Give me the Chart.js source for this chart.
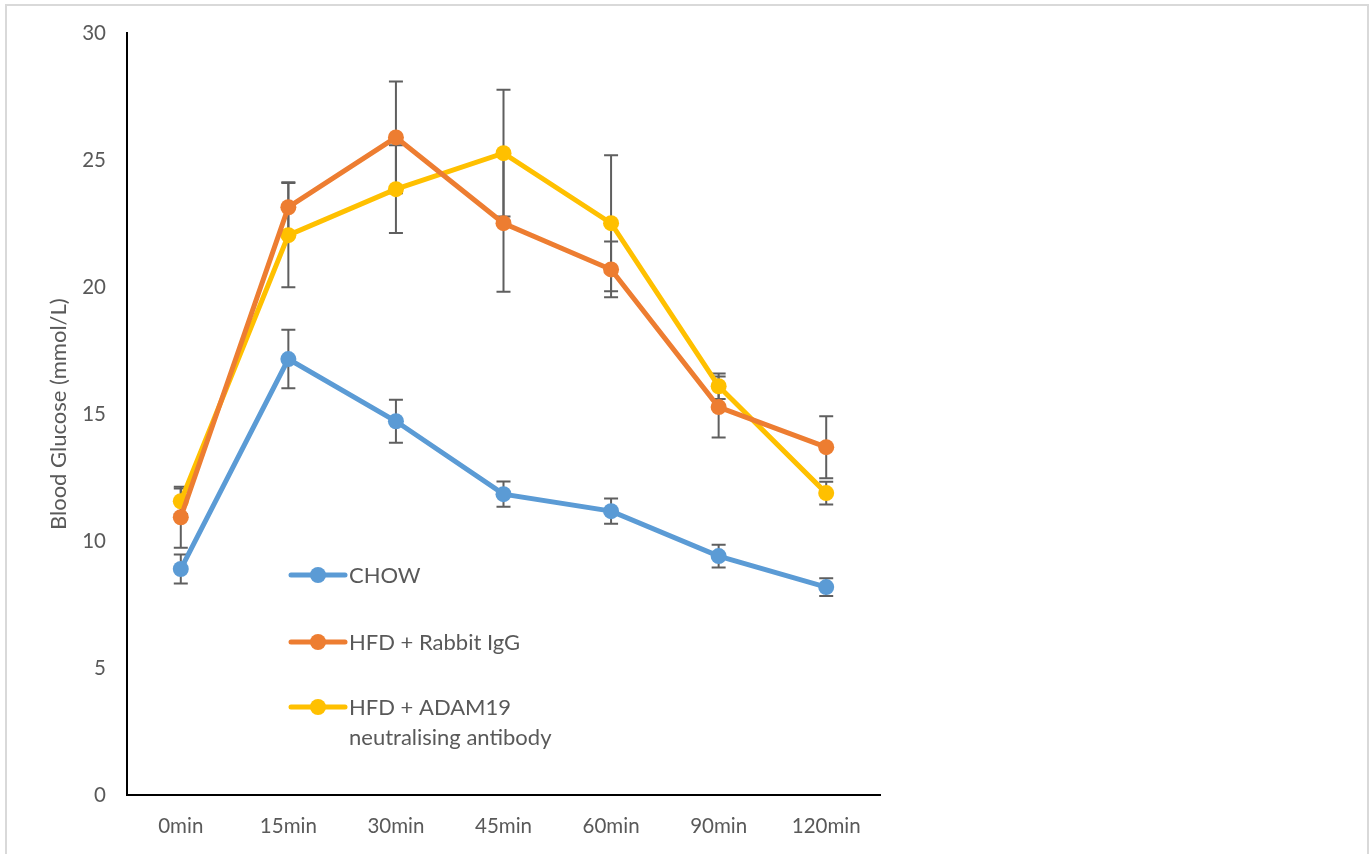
<!DOCTYPE html>
<html>
<head>
<meta charset="utf-8">
<title>Blood Glucose</title>
<script src="https://cdn.jsdelivr.net/npm/chart.js@4.4.0/dist/chart.umd.min.js"></script>
<style>
  html, body { margin: 0; padding: 0; background: #fff; overflow: hidden; }
  #marco { position: absolute; left: 5px; top: 4px; width: 1360px; height: 870px; border: 2px solid #d9d9d9; }
  #contenedor { position: absolute; left: 0; top: 0; width: 1370px; height: 854px; }
</style>
</head>
<body>
<div id="marco"></div>
<div id="contenedor"><canvas id="grafico"></canvas></div>
<script>
const etiquetas = ["0min", "15min", "30min", "45min", "60min", "90min", "120min"];

const chow = [8.9, 17.17, 14.72, 11.85, 11.18, 9.41, 8.19];
const chowError = [0.57, 1.15, 0.85, 0.5, 0.5, 0.45, 0.35];

const rabbitIgG = [10.94, 23.15, 25.9, 22.52, 20.7, 15.28, 13.7];
const rabbitIgGError = [1.2, 0.98, 2.2, 2.7, 1.1, 1.2, 1.22];

const adam19 = [11.57, 22.05, 23.86, 25.28, 22.52, 16.1, 11.89];
const adam19Error = [0.5, 2.05, 1.73, 2.5, 2.68, 0.5, 0.45];

const nombres = ["CHOW", "HFD + Rabbit IgG", "HFD + ADAM19 neutralising antibody"];
const leyendaLineas = [["CHOW"], ["HFD + Rabbit IgG"], ["HFD + ADAM19", "neutralising antibody"]];
const colores = ["#5B9BD5", "#ED7D31", "#FFC000"];
const errores = [chowError, rabbitIgGError, adam19Error];

const fuente = "Lato, 'Open Sans', sans-serif";
const gris = "#595959";

// barras de error dibujadas con las escalas del grafico
const barrasError = {
  id: "barrasError",
  beforeDatasetsDraw(chart) {
    const ctx = chart.ctx;
    const x = chart.scales.x;
    const y = chart.scales.y;
    ctx.save();
    ctx.strokeStyle = "#5f5f5f";
    ctx.lineWidth = 2;
    chart.data.datasets.forEach((ds, i) => {
      ds.data.forEach((v, j) => {
        const e = errores[i][j];
        const px = x.getPixelForValue(j);
        const arriba = y.getPixelForValue(v + e);
        const abajo = y.getPixelForValue(v - e);
        ctx.beginPath();
        ctx.moveTo(px, arriba);
        ctx.lineTo(px, abajo);
        ctx.moveTo(px - 7, arriba);
        ctx.lineTo(px + 7, arriba);
        ctx.moveTo(px - 7, abajo);
        ctx.lineTo(px + 7, abajo);
        ctx.stroke();
      });
    });
    ctx.restore();
  }
};

// leyenda dentro del area del grafico
const leyenda = {
  id: "leyenda",
  afterDraw(chart) {
    const ctx = chart.ctx;
    const filas = [575, 642, 707];
    ctx.save();
    ctx.font = "22px " + fuente;
    ctx.textBaseline = "middle";
    chart.data.datasets.forEach((ds, i) => {
      const yy = filas[i];
      ctx.strokeStyle = ds.borderColor;
      ctx.lineWidth = 5;
      ctx.lineCap = "round";
      ctx.beginPath();
      ctx.moveTo(291, yy);
      ctx.lineTo(345, yy);
      ctx.stroke();
      ctx.fillStyle = ds.borderColor;
      ctx.beginPath();
      ctx.arc(318, yy, 8, 0, Math.PI * 2);
      ctx.fill();
      ctx.fillStyle = gris;
      leyendaLineas[i].forEach((t, k) => {
        ctx.fillText(t, 349, yy + 1 + k * 30);
      });
    });
    ctx.restore();
  }
};

function armarDatasets() {
  return [chow, rabbitIgG, adam19].map((serie, i) => ({
    label: nombres[i],
    data: serie,
    borderColor: colores[i],
    backgroundColor: colores[i],
    borderWidth: 5,
    pointRadius: 8,
    pointHoverRadius: 8,
    pointBorderWidth: 0,
    tension: 0
  }));
}

const grafico = document.getElementById("grafico");
new Chart(grafico, {
  type: "line",
  data: {
    labels: etiquetas,
    datasets: armarDatasets()
  },
  plugins: [barrasError, leyenda],
  options: {
    responsive: true,
    maintainAspectRatio: false,
    animation: false,
    layout: { padding: { left: 42, top: 33, right: 490, bottom: 0 } },
    plugins: {
      legend: { display: false },
      tooltip: { enabled: false }
    },
    scales: {
      x: {
        offset: true,
        grid: { display: false, drawTicks: false },
        border: { color: "#000", width: 2 },
        ticks: { color: gris, font: { size: 20.5, family: fuente }, padding: 19 },
        afterFit(s) { s.height = 59; }
      },
      y: {
        min: 0,
        max: 30,
        grid: { display: false, drawTicks: false },
        border: { color: "#000", width: 2 },
        ticks: { stepSize: 5, color: gris, font: { size: 20.5, family: fuente }, padding: 21 },
        title: {
          display: true,
          text: "Blood Glucose (mmol/L)",
          color: gris,
          font: { size: 22, family: fuente }
        },
        afterFit(s) { s.width = 85; }
      }
    }
  }
});
</script>
</body>
</html>
